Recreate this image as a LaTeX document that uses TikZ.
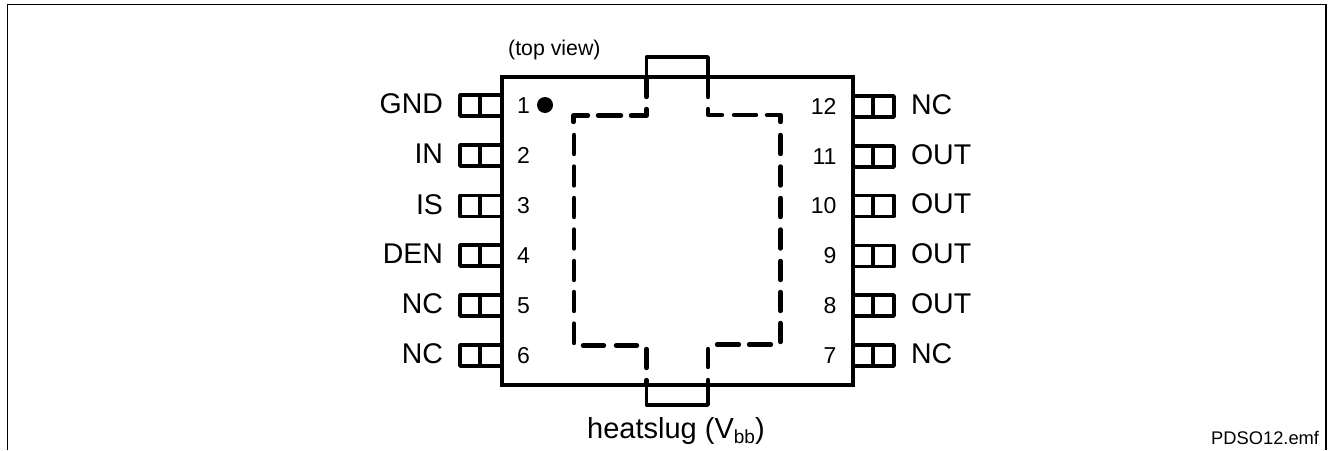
\documentclass[tikz,border=0pt]{standalone}
\usepackage{fontspec}
\setmainfont{Liberation Sans}
\tikzset{
  frameline/.style={line width=1.8pt,line cap=butt},
  pkgline/.style={line width=4pt,line join=miter},
  pinline/.style={line width=3.6pt,line join=round},
  dashline/.style={line width=4.4pt,line cap=round,line join=round},
  sig/.style={inner sep=0pt,outer sep=0pt,font=\fontsize{28.5}{28.5}\selectfont},
  num/.style={inner sep=0pt,outer sep=0pt,font=\fontsize{23}{23}\selectfont},
}
\begin{document}
\begin{tikzpicture}[x=1pt,y=-1pt]
\useasboundingbox (0,0) rectangle (1331,450);
% outer frame
\draw[frameline] (7.5,450) -- (7.5,4.5) -- (1326.3,4.5) -- (1326.3,450);
% pins
\foreach \yy/\lab/\nn in {105.5/GND/1,155.5/IN/2,206/IS/3,255.5/DEN/4,305.5/NC/5,355.5/NC/6}{
  \draw[pinline] (501,\yy-10.5) -- (460,\yy-10.5) -- (460,\yy+10.5) -- (501,\yy+10.5);
  \draw[pinline] (480,\yy-10.5) -- (480,\yy+10.5);
  \node[sig,anchor=base east] (l\nn) at (443,\yy+8) {\lab};
  \node[num,anchor=base west] (n\nn) at (517,\yy+7.5) {\nn};
}
\foreach \yy/\lab/\nn in {106.5/NC/12,156.5/OUT/11,206/OUT/10,256/OUT/9,305.5/OUT/8,355.5/NC/7}{
  \draw[pinline] (853,\yy-10.5) -- (894,\yy-10.5) -- (894,\yy+10.5) -- (853,\yy+10.5);
  \draw[pinline] (873,\yy-10.5) -- (873,\yy+10.5);
  \node[sig,anchor=base west] (r\nn) at (911,\yy+7.5) {\lab};
  \node[num,anchor=base east] (n\nn) at (836.5,\yy+7.5) {\nn};
}
% package with heatslug tabs
\draw[pkgline] (501.5,76.5) rectangle (853,385);
\draw[pinline] (646.5,76.5) -- (646.5,57) -- (708,57) -- (708,76.5);
\draw[pinline] (646.5,385) -- (646.5,405) -- (708,405) -- (708,385);
% heatslug outline
\draw[dashline] (646.5,76.5) -- (646.5,97);
\draw[dashline] (646.5,109) -- (646.5,115.5) -- (631,115.5);
\draw[dashline] (621,115.5) -- (598,115.5);
\draw[dashline] (588,115.5) -- (573.5,115.5) -- (573.5,122);
\draw[dashline] (708,76.5) -- (708,97);
\draw[dashline] (708,109) -- (708,115) -- (722,115);
\draw[dashline] (734,115) -- (756,115);
\draw[dashline] (767,115) -- (780.5,115) -- (780.5,122);
\foreach \ya in {135,166.5,198,229.5,261,292}{
  \draw[dashline] (574,\ya) -- (574,\ya+19);
  \draw[dashline] (780.5,\ya) -- (780.5,\ya+19);
}
\draw[dashline] (574,323.5) -- (574,343);
\draw[dashline] (780.5,323) -- (780.5,342);
\draw[dashline] (583,345.5) -- (604,345.5);
\draw[dashline] (616,345.5) -- (637,345.5);
\draw[dashline] (717,344.5) -- (739,344.5);
\draw[dashline] (749,344.5) -- (771,344.5);
\draw[dashline] (646.5,349) -- (646.5,368);
\draw[dashline] (708,349) -- (708,367);
\draw[dashline] (646.5,380) -- (646.5,385);
\draw[dashline] (708,380) -- (708,385);
% pin 1 mark
\fill (545,105) circle (8);
% texts
\node[inner sep=0pt,anchor=base west,font=\fontsize{21.3}{22}\selectfont] (tv) at (508,55) {(top view)};
\node[inner sep=0pt,anchor=base west,font=\fontsize{29}{29}\selectfont] (hs) at (587,438) {heatslug (V\raisebox{-5pt}{\fontsize{19}{19}\selectfont bb})};
\node[inner sep=0pt,anchor=base west,font=\fontsize{18.3}{18}\selectfont] (fn) at (1211,444) {PDSO12.emf};
\end{tikzpicture}
\end{document}
